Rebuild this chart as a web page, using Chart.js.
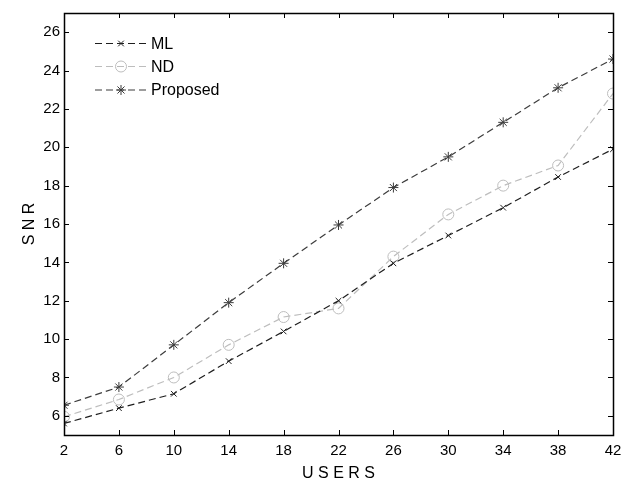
<!DOCTYPE html>
<html>
<head>
<meta charset="utf-8">
<script src="https://cdn.jsdelivr.net/npm/chart.js@4"></script>
<style>
html,body{margin:0;padding:0;background:#fff;}
#wrap{width:631px;height:485px;}
</style>
</head>
<body>
<div id="wrap"><canvas id="c" width="631" height="485"></canvas></div>
<script>
const users = [2, 6, 10, 14, 18, 22, 26, 30, 34, 38, 42];
const mlSNR = [5.6, 6.4, 7.15, 8.85, 10.4, 12.0, 13.95, 15.4, 16.85, 18.45, 19.9];
const ndSNR = [5.95, 6.85, 8.0, 9.7, 11.15, 11.6, 14.3, 16.5, 18.0, 19.05, 22.8];
const proposedSNR = [6.55, 7.5, 9.7, 11.9, 13.95, 15.95, 17.9, 19.5, 21.3, 23.1, 24.6];
const xTicks = [2, 6, 10, 14, 18, 22, 26, 30, 34, 38, 42];
const yTicks = [6, 8, 10, 12, 14, 16, 18, 20, 22, 24, 26];
const seriesNames = ['ML', 'ND', 'Proposed'];

const FONT = 'Liberation Sans, Arial, Helvetica, sans-serif';
const toXY = arr => users.map((u, i) => ({x: u, y: arr[i]}));

const boxPlugin = {
  id: 'boxTicks',
  afterDraw(chart) {
    const {ctx, chartArea: a, scales: {x, y}} = chart;
    ctx.save();
    ctx.strokeStyle = '#000';
    ctx.lineWidth = 1;
    const tl = 5;
    ctx.beginPath();
    xTicks.forEach(v => {
      const px = Math.round(x.getPixelForValue(v)) + 0.5;
      ctx.moveTo(px, a.bottom); ctx.lineTo(px, a.bottom - tl);
      ctx.moveTo(px, a.top); ctx.lineTo(px, a.top + tl);
    });
    yTicks.forEach(v => {
      const py = Math.round(y.getPixelForValue(v)) + 0.5;
      ctx.moveTo(a.left, py); ctx.lineTo(a.left + tl, py);
      ctx.moveTo(a.right, py); ctx.lineTo(a.right - tl, py);
    });
    ctx.stroke();
    ctx.lineWidth = 1.5;
    ctx.strokeRect(Math.round(a.left) + 0.5, Math.round(a.top) + 0.5, Math.round(a.right - a.left), Math.round(a.bottom - a.top));
    // legend
    const lx0 = a.left + 31, lx1 = a.left + 83, tx = a.left + 87;
    const rows = [43.5, 66.5, 90];
    ctx.font = '16px ' + FONT;
    ctx.textBaseline = 'middle';
    ctx.textAlign = 'left';
    chart.data.datasets.forEach((ds, i) => {
      const yy = rows[i];
      ctx.save();
      ctx.strokeStyle = ds.borderColor;
      ctx.lineWidth = ds.borderWidth;
      ctx.setLineDash(ds.borderDash);
      ctx.beginPath();
      ctx.moveTo(lx0, yy); ctx.lineTo(lx1, yy);
      ctx.stroke();
      ctx.restore();
      ctx.save();
      ctx.strokeStyle = ds.pointBorderColor;
      ctx.fillStyle = 'rgba(0,0,0,0)';
      ctx.lineWidth = 1;
      Chart.helpers.drawPoint(ctx, {pointStyle: ds.pointStyle, radius: ds.pointRadius, rotation: 0, borderWidth: 1}, (lx0 + lx1) / 2, yy);
      ctx.restore();
      ctx.fillStyle = '#000';
      ctx.fillText(seriesNames[i], tx, yy + 1);
    });
    ctx.restore();
  }
};

const mk = (label, data, color, style, r) => ({
  label, data: toXY(data),
  borderColor: color, backgroundColor: 'rgba(0,0,0,0)',
  pointBorderColor: color, pointBackgroundColor: 'rgba(0,0,0,0)',
  borderWidth: 1.2, borderDash: [7, 4], pointStyle: style,
  pointRadius: r, pointBorderWidth: 1, tension: 0, fill: false
});

new Chart(document.getElementById('c'), {
  type: 'line',
  data: {
    datasets: [
      mk(seriesNames[0], mlSNR, '#1e1e1e', 'crossRot', 4),
      mk(seriesNames[1], ndSNR, '#bdbdbd', 'circle', 5.5),
      mk(seriesNames[2], proposedSNR, '#3c3c3c', 'star', 5)
    ]
  },
  options: {
    responsive: false,
    animation: false,
    devicePixelRatio: 1,
    layout: {padding: {top: 5, right: 18, left: 0, bottom: 0}},
    plugins: {legend: {display: false}, tooltip: {enabled: false}},
    scales: {
      x: {
        type: 'linear', min: 2, max: 42,
        afterBuildTicks: s => { s.ticks = xTicks.map(v => ({value: v})); },
        afterFit: s => { s.height = 50; },
        grid: {display: false, drawTicks: false}, border: {display: false},
        ticks: {color: '#000', font: {family: FONT, size: 15}, padding: 7, maxRotation: 0, autoSkip: false},
        title: {display: true, text: 'U S E R S', color: '#000', font: {family: FONT, size: 16}, padding: {top: 0, bottom: 2}}
      },
      y: {
        type: 'linear', min: 5, max: 27,
        afterBuildTicks: s => { s.ticks = yTicks.map(v => ({value: v})); },
        afterFit: s => { s.width = 64; },
        grid: {display: false, drawTicks: false}, border: {display: false},
        ticks: {color: '#000', font: {family: FONT, size: 15}, padding: 4, autoSkip: false},
        title: {display: true, text: 'S N R', color: '#000', font: {family: FONT, size: 16}, padding: {top: 20, bottom: 0}}
      }
    }
  },
  plugins: [boxPlugin]
});
</script>
</body>
</html>
